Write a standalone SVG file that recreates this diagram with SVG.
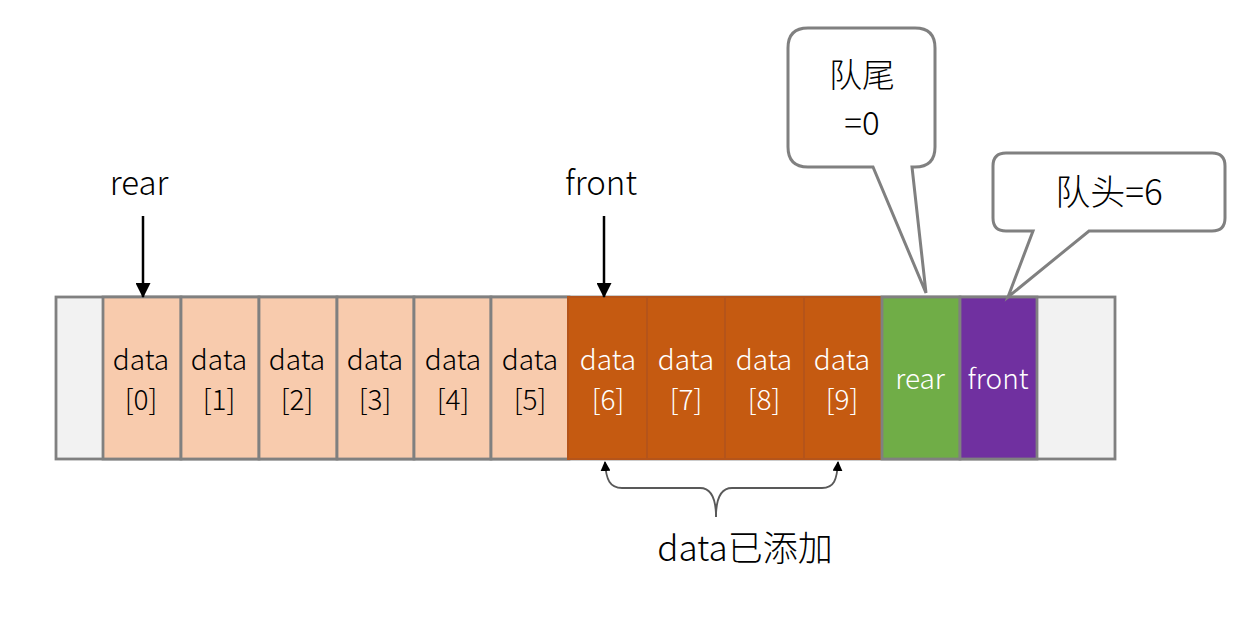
<svg xmlns="http://www.w3.org/2000/svg" width="1244" height="636" viewBox="0 0 1244 636">
<style>
text{font-family:"Noto Sans CJK SC","Microsoft YaHei",sans-serif;text-anchor:middle;font-weight:300}
.cell{stroke:#808080;stroke-width:2.8}
.lt{fill:#f8cbad}
.or{fill:#c55a11;stroke:#b5541a;stroke-width:2}
.t{font-size:28px;fill:#000}
.w{font-size:28px;fill:#fff}
.lbl{font-size:33px;fill:#000}
.cjk{font-size:35px;fill:#000}
.cjk2{font-size:33px;fill:#000}
.call{fill:#fff;stroke:#808080;stroke-width:3}
</style>
<defs>
<marker id="ah" markerWidth="10" markerHeight="10" refX="9" refY="5" orient="auto" markerUnits="userSpaceOnUse" viewBox="0 0 10 10"><path d="M0,0 L10,5 L0,10 z" fill="#000"/></marker>
<marker id="ah2" markerWidth="15" markerHeight="15" refX="14" refY="7.5" orient="auto" markerUnits="userSpaceOnUse" viewBox="0 0 15 15"><path d="M0,0 L15,7.5 L0,15 z" fill="#000"/></marker>
</defs>
<g id="array">
<rect id="outer" x="56" y="297" width="1059" height="162" fill="#f2f2f2" class="cell"/>
<g id="c0"><rect x="103" y="297" width="78" height="162" class="cell lt"/><text class="t" x="141" y="370">data</text><text class="t" x="141" y="410">[0]</text></g>
<g id="c1"><rect x="181" y="297" width="78" height="162" class="cell lt"/><text class="t" x="219" y="370">data</text><text class="t" x="219" y="410">[1]</text></g>
<g id="c2"><rect x="259" y="297" width="78" height="162" class="cell lt"/><text class="t" x="297" y="370">data</text><text class="t" x="297" y="410">[2]</text></g>
<g id="c3"><rect x="337" y="297" width="77" height="162" class="cell lt"/><text class="t" x="375" y="370">data</text><text class="t" x="375" y="410">[3]</text></g>
<g id="c4"><rect x="414" y="297" width="77" height="162" class="cell lt"/><text class="t" x="453" y="370">data</text><text class="t" x="453" y="410">[4]</text></g>
<g id="c5"><rect x="491" y="297" width="78" height="162" class="cell lt"/><text class="t" x="530" y="370">data</text><text class="t" x="530" y="410">[5]</text></g>
<g id="c6"><rect x="568" y="297" width="79" height="162" class="or"/><text class="w" x="608" y="370">data</text><text class="w" x="608" y="410">[6]</text></g>
<g id="c7"><rect x="647" y="297" width="78" height="162" class="or"/><text class="w" x="686" y="370">data</text><text class="w" x="686" y="410">[7]</text></g>
<g id="c8"><rect x="725" y="297" width="79" height="162" class="or"/><text class="w" x="764" y="370">data</text><text class="w" x="764" y="410">[8]</text></g>
<g id="c9"><rect x="804" y="297" width="78" height="162" class="or"/><text class="w" x="842" y="370">data</text><text class="w" x="842" y="410">[9]</text></g>
<g id="crear"><rect x="882" y="297" width="78" height="162" fill="#70ad47" class="cell"/><text class="w" x="920" y="389">rear</text></g>
<g id="cfront"><rect x="960" y="297" width="77" height="162" fill="#7030a0" class="cell"/><text class="w" x="998" y="389">front</text></g>
</g>
<g id="rearLabel"><text class="lbl" x="139" y="195">rear</text></g>
<g id="frontLabel"><text class="lbl" x="601" y="195">front</text></g>
<g id="callout1">
<path class="call" d="M808,28 H915 Q935,28 935,48 V147 Q935,167 915,167 H912 L926,293 L873,167 H808 Q788,167 788,147 V48 Q788,28 808,28 Z"/>
<text class="cjk2" x="862" y="87">队尾</text>
<text class="cjk2" x="862" y="135">=0</text>
</g>
<g id="callout2">
<path class="call" d="M1006,153 H1212 Q1225,153 1225,166 V218 Q1225,231 1212,231 H1089 L1008,297 L1033,231 H1006 Q993,231 993,218 V166 Q993,153 1006,153 Z"/>
<text class="cjk" x="1109" y="205">队头=6</text>
</g>
<g id="addedLabel"><text class="cjk" x="745" y="561">data已添加</text></g>
<g id="connectors" fill="none">
<line x1="143" y1="216" x2="143" y2="297" stroke="#000" stroke-width="2.5" marker-end="url(#ah2)"/>
<line x1="604" y1="216" x2="604" y2="297" stroke="#000" stroke-width="2.5" marker-end="url(#ah2)"/>
<path d="M716,517 C716,500 712,488 700,488 H622 C610,488 606,480 605,462" stroke="#595959" stroke-width="1.8" marker-end="url(#ah)"/>
<path d="M716,517 C716,500 720,488 732,488 H822 C834,488 837,480 838,462" stroke="#595959" stroke-width="1.8" marker-end="url(#ah)"/>
</g>
</svg>
